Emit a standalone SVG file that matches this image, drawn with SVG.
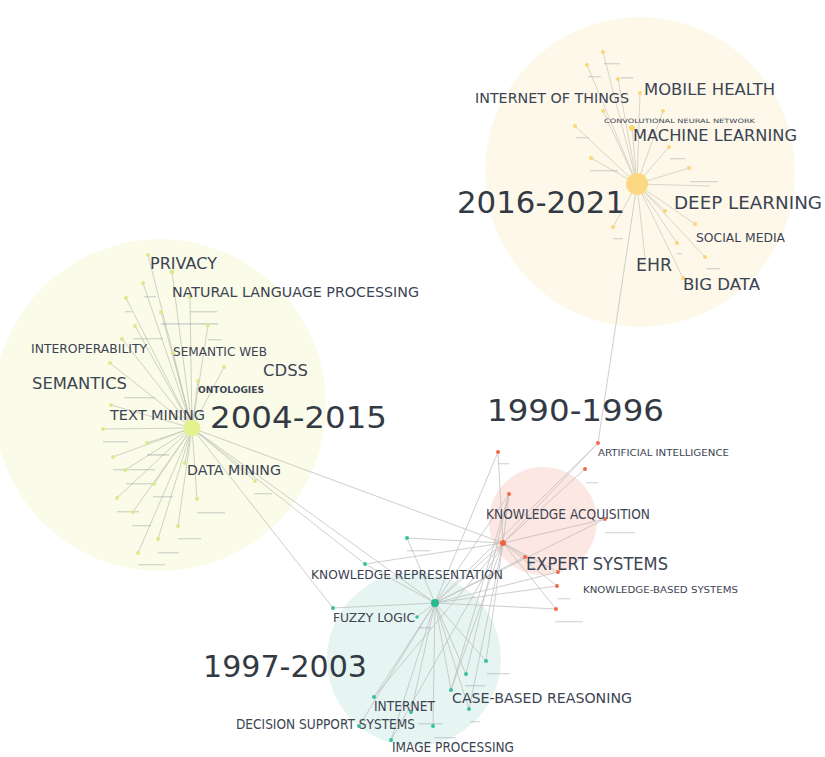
<svg xmlns="http://www.w3.org/2000/svg" width="825" height="757" viewBox="0 0 825 757">
<style>
.bg{fill:#ffffff}
.e{stroke:#b9b9b9;stroke-width:0.8;fill:none;opacity:0.85}
.s{stroke:#cfcbc0;stroke-width:0.8;fill:none}
.g{stroke:#c4c6b8;stroke-width:0.8;fill:none}
.y{fill:#fcd577}
.l{fill:#dbe98a}
.r{fill:#f06a4c}
.t{fill:#35c29c}
.tiny{fill:#8a8f98;opacity:0.32}
text{font-family:"DejaVu Sans","Liberation Sans",sans-serif;fill:#3c4452}
.yr{font-size:30px;fill:#333a44}
</style>
<rect class="bg" x="0" y="0" width="825" height="757"/>
<g id="halos">
<circle cx="640" cy="172" r="155" fill="#fdf8ea"/>
<circle cx="160" cy="405" r="166" fill="#fafbe9"/>
<circle cx="414" cy="659" r="87" fill="#e6f5f1"/>
<circle cx="543" cy="521" r="54" fill="#fde7e2"/>
</g>
<g id="connectors">
<g class="s">
<line x1="637" y1="184" x2="603" y2="52"/>
<line x1="637" y1="184" x2="587" y2="65"/>
<line x1="637" y1="184" x2="618" y2="79"/>
<line x1="637" y1="184" x2="640" y2="93"/>
<line x1="637" y1="184" x2="603" y2="111"/>
<line x1="637" y1="184" x2="663" y2="111"/>
<line x1="637" y1="184" x2="575" y2="126"/>
<line x1="637" y1="184" x2="632" y2="128"/>
<line x1="637" y1="184" x2="669" y2="147"/>
<line x1="637" y1="184" x2="591" y2="158"/>
<line x1="637" y1="184" x2="689" y2="168"/>
<line x1="637" y1="184" x2="710" y2="186"/>
<line x1="637" y1="184" x2="665" y2="211"/>
<line x1="637" y1="184" x2="695" y2="224"/>
<line x1="637" y1="184" x2="613" y2="227"/>
<line x1="637" y1="184" x2="677" y2="243"/>
<line x1="637" y1="184" x2="705" y2="257"/>
<line x1="637" y1="184" x2="683" y2="278"/>
<line x1="637" y1="184" x2="645" y2="258"/>
</g>
<g class="g">
<line x1="192" y1="428" x2="148" y2="255"/>
<line x1="192" y1="428" x2="172" y2="272"/>
<line x1="192" y1="428" x2="143" y2="283"/>
<line x1="192" y1="428" x2="126" y2="298"/>
<line x1="192" y1="428" x2="190" y2="297"/>
<line x1="192" y1="428" x2="161" y2="312"/>
<line x1="192" y1="428" x2="135" y2="326"/>
<line x1="192" y1="428" x2="208" y2="325"/>
<line x1="192" y1="428" x2="122" y2="339"/>
<line x1="192" y1="428" x2="173" y2="353"/>
<line x1="192" y1="428" x2="110" y2="363"/>
<line x1="192" y1="428" x2="224" y2="367"/>
<line x1="192" y1="428" x2="198" y2="381"/>
<line x1="192" y1="428" x2="111" y2="405"/>
<line x1="192" y1="428" x2="103" y2="429"/>
<line x1="192" y1="428" x2="147" y2="443"/>
<line x1="192" y1="428" x2="113" y2="457"/>
<line x1="192" y1="428" x2="185" y2="463"/>
<line x1="192" y1="428" x2="125" y2="470"/>
<line x1="192" y1="428" x2="154" y2="484"/>
<line x1="192" y1="428" x2="117" y2="498"/>
<line x1="192" y1="428" x2="197" y2="499"/>
<line x1="192" y1="428" x2="133" y2="512"/>
<line x1="192" y1="428" x2="178" y2="526"/>
<line x1="192" y1="428" x2="158" y2="539"/>
<line x1="192" y1="428" x2="138" y2="553"/>
<line x1="192" y1="428" x2="255" y2="481"/>
</g>
<g class="e">
<line x1="637" y1="184" x2="598" y2="443"/>
<line x1="192" y1="428" x2="333" y2="608"/>
<line x1="192" y1="428" x2="365" y2="564"/>
<line x1="192" y1="428" x2="435" y2="603"/>
<line x1="192" y1="428" x2="503" y2="543"/>
<line x1="503" y1="543" x2="498" y2="452"/>
<line x1="503" y1="543" x2="598" y2="443"/>
<line x1="503" y1="543" x2="585" y2="469"/>
<line x1="503" y1="543" x2="509" y2="494"/>
<line x1="503" y1="543" x2="605" y2="519"/>
<line x1="503" y1="543" x2="525" y2="557"/>
<line x1="503" y1="543" x2="558" y2="572"/>
<line x1="503" y1="543" x2="557" y2="586"/>
<line x1="503" y1="543" x2="556" y2="609"/>
<line x1="498" y1="452" x2="435" y2="603"/>
<line x1="509" y1="494" x2="435" y2="603"/>
<line x1="509" y1="494" x2="451" y2="690"/>
<line x1="598" y1="443" x2="435" y2="603"/>
<line x1="407" y1="538" x2="503" y2="543"/>
<line x1="365" y1="564" x2="503" y2="543"/>
<line x1="435" y1="603" x2="503" y2="543"/>
<line x1="435" y1="603" x2="525" y2="557"/>
<line x1="435" y1="603" x2="558" y2="572"/>
<line x1="435" y1="603" x2="557" y2="586"/>
<line x1="435" y1="603" x2="556" y2="609"/>
<line x1="435" y1="603" x2="605" y2="519"/>
<line x1="435" y1="603" x2="407" y2="538"/>
<line x1="435" y1="603" x2="365" y2="564"/>
<line x1="435" y1="603" x2="333" y2="608"/>
<line x1="435" y1="603" x2="417" y2="617"/>
<line x1="435" y1="603" x2="486" y2="661"/>
<line x1="435" y1="603" x2="466" y2="674"/>
<line x1="435" y1="603" x2="451" y2="690"/>
<line x1="435" y1="603" x2="374" y2="697"/>
<line x1="435" y1="603" x2="469" y2="709"/>
<line x1="435" y1="603" x2="411" y2="712"/>
<line x1="435" y1="603" x2="359" y2="726"/>
<line x1="435" y1="603" x2="433" y2="726"/>
<line x1="435" y1="603" x2="391" y2="740"/>
<line x1="486" y1="661" x2="503" y2="543"/>
<line x1="466" y1="674" x2="509" y2="494"/>
<line x1="469" y1="709" x2="503" y2="543"/>
<line x1="451" y1="690" x2="503" y2="543"/>
<line x1="374" y1="697" x2="503" y2="543"/>
<line x1="391" y1="740" x2="503" y2="543"/>
</g>
</g>
<g id="tiny-labels">
<rect class="tiny" x="604" y="63" width="16" height="1.4"/>
<rect class="tiny" x="588" y="76" width="13" height="1.4"/>
<rect class="tiny" x="621" y="77" width="12" height="1.6"/>
<rect class="tiny" x="576" y="137" width="13" height="1.4"/>
<rect class="tiny" x="590" y="170" width="28" height="1.4"/>
<rect class="tiny" x="670" y="158" width="15" height="1.4"/>
<rect class="tiny" x="690" y="181" width="28" height="1.4"/>
<rect class="tiny" x="613" y="238" width="10" height="1.4"/>
<rect class="tiny" x="677" y="253" width="5" height="1.4"/>
<rect class="tiny" x="706" y="268" width="14" height="1.4"/>
<rect class="tiny" x="144" y="296" width="12" height="1.4"/>
<rect class="tiny" x="125" y="311" width="7" height="1.4"/>
<rect class="tiny" x="190" y="311" width="27" height="1.4"/>
<rect class="tiny" x="161" y="323" width="57" height="1.8" opacity="0.6"/>
<rect class="tiny" x="133" y="338" width="30" height="1.4"/>
<rect class="tiny" x="208" y="339" width="14" height="1.4"/>
<rect class="tiny" x="124" y="397" width="31" height="1.4"/>
<rect class="tiny" x="103" y="441" width="25" height="1.4"/>
<rect class="tiny" x="147" y="454" width="22" height="1.8" opacity="0.6"/>
<rect class="tiny" x="113" y="469" width="42" height="1.4"/>
<rect class="tiny" x="126" y="483" width="27" height="1.4"/>
<rect class="tiny" x="153" y="496" width="20" height="1.4"/>
<rect class="tiny" x="117" y="511" width="22" height="1.4"/>
<rect class="tiny" x="197" y="512" width="28" height="1.4"/>
<rect class="tiny" x="132" y="525" width="19" height="1.4"/>
<rect class="tiny" x="178" y="538" width="23" height="1.4"/>
<rect class="tiny" x="158" y="552" width="21" height="1.4"/>
<rect class="tiny" x="138" y="564" width="27" height="1.4"/>
<rect class="tiny" x="254" y="493" width="18" height="1.4"/>
<rect class="tiny" x="498" y="463" width="11" height="1.4"/>
<rect class="tiny" x="586" y="482" width="12" height="1.4"/>
<rect class="tiny" x="605" y="532" width="30" height="1.4"/>
<rect class="tiny" x="558" y="598" width="12" height="1.4"/>
<rect class="tiny" x="555" y="621" width="28" height="1.4"/>
<rect class="tiny" x="407" y="550" width="23" height="1.4"/>
<rect class="tiny" x="418" y="627" width="13" height="1.4"/>
<rect class="tiny" x="487" y="673" width="23" height="1.4"/>
<rect class="tiny" x="465" y="685" width="20" height="1.4"/>
<rect class="tiny" x="470" y="721" width="10" height="1.4"/>
<rect class="tiny" x="418" y="723" width="25" height="1.4"/>
<rect class="tiny" x="434" y="737" width="22" height="1.4"/>
</g>
<g id="nodes-2016-2021">
<circle class="y" cx="603" cy="52" r="2"/>
<circle class="y" cx="587" cy="65" r="2"/>
<circle class="y" cx="618" cy="79" r="2"/>
<circle class="y" cx="640" cy="93" r="2"/>
<circle class="y" cx="603" cy="111" r="2"/>
<circle class="y" cx="663" cy="111" r="2"/>
<circle class="y" cx="575" cy="126" r="2"/>
<circle class="y" cx="632" cy="128" r="3"/>
<circle class="y" cx="669" cy="147" r="2"/>
<circle class="y" cx="591" cy="158" r="2"/>
<circle class="y" cx="689" cy="168" r="2"/>
<circle class="y" cx="665" cy="211" r="2"/>
<circle class="y" cx="695" cy="224" r="2"/>
<circle class="y" cx="613" cy="227" r="2"/>
<circle class="y" cx="677" cy="243" r="2"/>
<circle class="y" cx="705" cy="257" r="2"/>
<circle class="y" cx="683" cy="278" r="2"/>
<circle cx="637" cy="184" r="11" fill="#fdd882"/>
</g>
<g id="nodes-2004-2015">
<circle class="l" cx="148" cy="255" r="2"/>
<circle class="l" cx="172" cy="272" r="2.4"/>
<circle class="l" cx="143" cy="283" r="2"/>
<circle class="l" cx="126" cy="298" r="2"/>
<circle class="l" cx="190" cy="297" r="2"/>
<circle class="l" cx="161" cy="312" r="2"/>
<circle class="l" cx="135" cy="326" r="2"/>
<circle class="l" cx="208" cy="325" r="2"/>
<circle class="l" cx="122" cy="339" r="2"/>
<circle class="l" cx="173" cy="353" r="2"/>
<circle class="l" cx="110" cy="363" r="2"/>
<circle class="l" cx="224" cy="367" r="2"/>
<circle class="l" cx="198" cy="381" r="2"/>
<circle class="l" cx="111" cy="405" r="2"/>
<circle class="l" cx="103" cy="429" r="2"/>
<circle class="l" cx="147" cy="443" r="2"/>
<circle class="l" cx="113" cy="457" r="2"/>
<circle class="l" cx="185" cy="463" r="2"/>
<circle class="l" cx="125" cy="470" r="2"/>
<circle class="l" cx="154" cy="484" r="2"/>
<circle class="l" cx="117" cy="498" r="2"/>
<circle class="l" cx="197" cy="499" r="2"/>
<circle class="l" cx="133" cy="512" r="2"/>
<circle class="l" cx="178" cy="526" r="2"/>
<circle class="l" cx="158" cy="539" r="2"/>
<circle class="l" cx="138" cy="553" r="2"/>
<circle class="l" cx="255" cy="481" r="2"/>
<circle cx="192" cy="428" r="8.5" fill="#e3f191"/>
</g>
<g id="nodes-1990-1996">
<circle class="r" cx="498" cy="452" r="2"/>
<circle class="r" cx="598" cy="443" r="2"/>
<circle class="r" cx="585" cy="469" r="2"/>
<circle class="r" cx="509" cy="494" r="2"/>
<circle class="r" cx="605" cy="519" r="2"/>
<circle class="r" cx="525" cy="557" r="2"/>
<circle class="r" cx="558" cy="572" r="2"/>
<circle class="r" cx="557" cy="586" r="2"/>
<circle class="r" cx="556" cy="609" r="2"/>
<circle cx="503" cy="543" r="3" fill="#f0603a"/>
</g>
<g id="nodes-1997-2003">
<circle class="t" cx="407" cy="538" r="2"/>
<circle class="t" cx="365" cy="564" r="2"/>
<circle class="t" cx="333" cy="608" r="2"/>
<circle class="t" cx="417" cy="617" r="1.8"/>
<circle class="t" cx="486" cy="661" r="2"/>
<circle class="t" cx="466" cy="674" r="2"/>
<circle class="t" cx="451" cy="690" r="2"/>
<circle class="t" cx="374" cy="697" r="2"/>
<circle class="t" cx="469" cy="709" r="2"/>
<circle class="t" cx="411" cy="712" r="2"/>
<circle class="t" cx="359" cy="726" r="2"/>
<circle class="t" cx="433" cy="726" r="2"/>
<circle class="t" cx="391" cy="740" r="2"/>
<circle cx="435" cy="603" r="4" fill="#26b98e"/>
</g>
<g id="labels">
<text class="yr" x="457" y="213" textLength="168" lengthAdjust="spacingAndGlyphs">2016-2021</text>
<text x="644" y="95" font-size="16" textLength="131" lengthAdjust="spacingAndGlyphs">MOBILE HEALTH</text>
<text x="475" y="103" font-size="14" textLength="154" lengthAdjust="spacingAndGlyphs">INTERNET OF THINGS</text>
<text x="604" y="123" font-size="6" textLength="151" lengthAdjust="spacingAndGlyphs">CONVOLUTIONAL NEURAL NETWORK</text>
<text x="633" y="141" font-size="15" textLength="164" lengthAdjust="spacingAndGlyphs">MACHINE LEARNING</text>
<text x="674" y="209" font-size="18" textLength="148" lengthAdjust="spacingAndGlyphs">DEEP LEARNING</text>
<text x="696" y="242" font-size="13" textLength="89" lengthAdjust="spacingAndGlyphs">SOCIAL MEDIA</text>
<text x="636" y="271" font-size="17" textLength="36" lengthAdjust="spacingAndGlyphs">EHR</text>
<text x="683" y="290" font-size="15" textLength="77" lengthAdjust="spacingAndGlyphs">BIG DATA</text>
<text x="150" y="269" font-size="15" textLength="67" lengthAdjust="spacingAndGlyphs">PRIVACY</text>
<text x="172" y="297" font-size="13.5" textLength="247" lengthAdjust="spacingAndGlyphs">NATURAL LANGUAGE PROCESSING</text>
<text x="31" y="353" font-size="13" textLength="116" lengthAdjust="spacingAndGlyphs">INTEROPERABILITY</text>
<text x="173" y="356" font-size="13" textLength="94" lengthAdjust="spacingAndGlyphs">SEMANTIC WEB</text>
<text x="263" y="376" font-size="15.5" textLength="45" lengthAdjust="spacingAndGlyphs">CDSS</text>
<text x="32" y="389" font-size="16" textLength="95" lengthAdjust="spacingAndGlyphs">SEMANTICS</text>
<text x="198" y="393" font-size="9.5" font-weight="bold" textLength="66" lengthAdjust="spacingAndGlyphs">ONTOLOGIES</text>
<text x="110" y="420" font-size="14" textLength="95" lengthAdjust="spacingAndGlyphs">TEXT MINING</text>
<text class="yr" x="210" y="428" font-size="32" textLength="177" lengthAdjust="spacingAndGlyphs">2004-2015</text>
<text x="187" y="475" font-size="14" textLength="94" lengthAdjust="spacingAndGlyphs">DATA MINING</text>
<text class="yr" x="487" y="421" textLength="177" lengthAdjust="spacingAndGlyphs">1990-1996</text>
<text x="598" y="456" font-size="9.5" textLength="131" lengthAdjust="spacingAndGlyphs">ARTIFICIAL INTELLIGENCE</text>
<text x="486" y="519" font-size="14" textLength="164" lengthAdjust="spacingAndGlyphs">KNOWLEDGE ACQUISITION</text>
<text x="526" y="570" font-size="17" textLength="142" lengthAdjust="spacingAndGlyphs">EXPERT SYSTEMS</text>
<text x="583" y="593" font-size="9.5" textLength="155" lengthAdjust="spacingAndGlyphs">KNOWLEDGE-BASED SYSTEMS</text>
<text x="311" y="579" font-size="13" textLength="192" lengthAdjust="spacingAndGlyphs">KNOWLEDGE REPRESENTATION</text>
<text x="333" y="622" font-size="13" textLength="82" lengthAdjust="spacingAndGlyphs">FUZZY LOGIC</text>
<text class="yr" x="203" y="677" textLength="164" lengthAdjust="spacingAndGlyphs">1997-2003</text>
<text x="452" y="703" font-size="14" textLength="180" lengthAdjust="spacingAndGlyphs">CASE-BASED REASONING</text>
<text x="374" y="711" font-size="14" textLength="61" lengthAdjust="spacingAndGlyphs">INTERNET</text>
<text x="236" y="729" font-size="13.5" textLength="179" lengthAdjust="spacingAndGlyphs">DECISION SUPPORT SYSTEMS</text>
<text x="392" y="752" font-size="14" textLength="122" lengthAdjust="spacingAndGlyphs">IMAGE PROCESSING</text>
</g>
</svg>
